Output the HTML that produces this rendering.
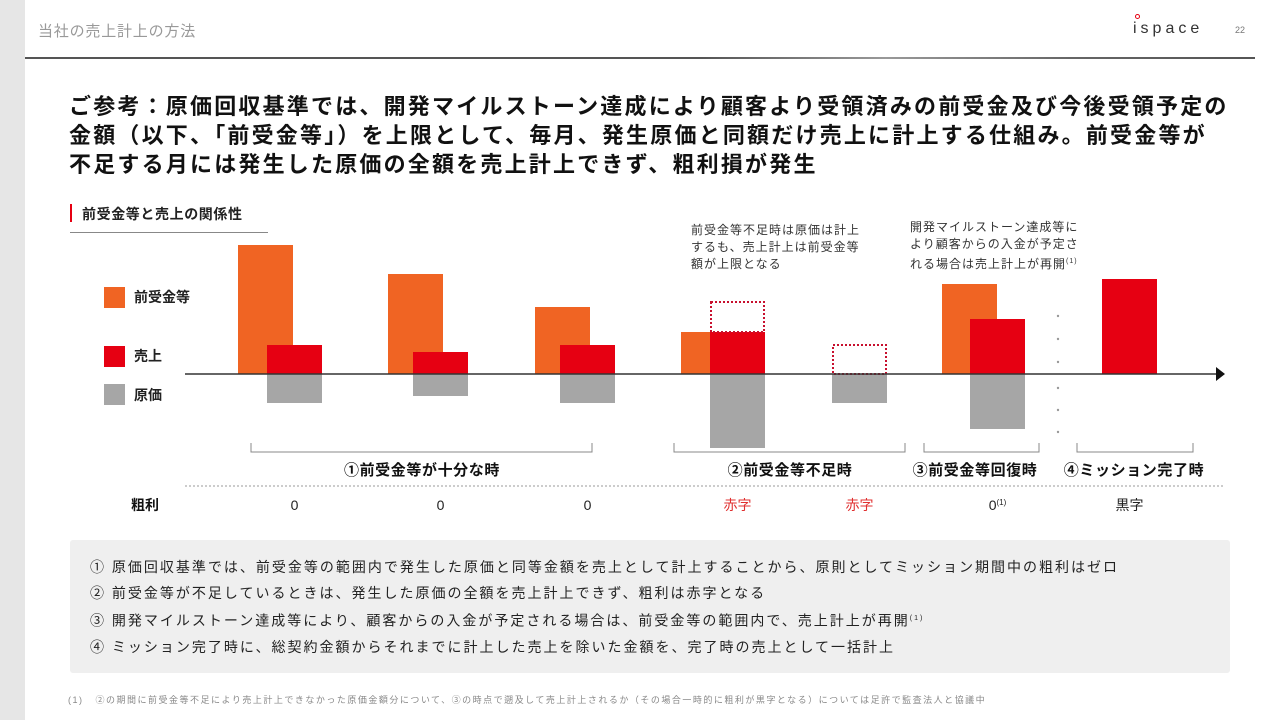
<!DOCTYPE html>
<html><head><meta charset="utf-8">
<style>
*{margin:0;padding:0;box-sizing:border-box}
body{width:1280px;height:720px;position:relative;background:#fff;font-family:"Liberation Sans","Noto Sans CJK JP",sans-serif;overflow:hidden;color:#222}
.abs{position:absolute;white-space:nowrap}
</style></head><body>
<div class="abs" style="left:0;top:0;width:25px;height:720px;background:#e6e6e6"></div>
<div class="abs" style="left:38px;top:20px;font-size:15px;color:#999;letter-spacing:0.8px">当社の売上計上の方法</div>
<div class="abs" style="left:1133px;top:20px;font-size:16px;letter-spacing:4px;color:#333">ispace<span style="position:absolute;left:2px;top:-6px;width:5px;height:5px;border-radius:50%;border:1.5px solid #e60012"></span></div>
<div class="abs" style="left:1235px;top:25px;font-size:9px;color:#777">22</div>
<div class="abs" style="left:25px;top:57px;width:1230px;height:2px;background:linear-gradient(90deg,#555 0%,#555 55%,#999 70%,#666 85%,#555 100%)"></div>
<div class="abs" style="left:69px;top:92px;font-size:22px;font-weight:bold;line-height:29px;color:#111;letter-spacing:2.2px">ご参考：原価回収基準では、開発マイルストーン達成により顧客より受領済みの前受金及び今後受領予定の<br>金額（以下、「前受金等」）を上限として、毎月、発生原価と同額だけ売上に計上する仕組み。前受金等が<br>不足する月には発生した原価の全額を売上計上できず、粗利損が発生</div>
<div class="abs" style="left:70px;top:204px;width:2px;height:18px;background:#e60012"></div>
<div class="abs" style="left:82px;top:204px;font-size:14px;font-weight:bold;letter-spacing:0.6px">前受金等と売上の関係性</div>
<div class="abs" style="left:70px;top:232px;width:198px;height:1px;background:#888"></div>
<div class="abs" style="left:691px;top:222px;font-size:12px;line-height:17px;color:#333;letter-spacing:1px">前受金等不足時は原価は計上<br>するも、売上計上は前受金等<br>額が上限となる</div>
<div class="abs" style="left:910px;top:219px;font-size:12px;line-height:17px;color:#333;letter-spacing:1px">開発マイルストーン達成等に<br>より顧客からの入金が予定さ<br>れる場合は売上計上が再開<sup style="font-size:7px">(1)</sup></div>

<div class="abs" style="left:104px;top:287px;width:21px;height:21px;background:#f06423"></div>
<div class="abs" style="left:134px;top:287px;font-size:14px;font-weight:bold">前受金等</div>
<div class="abs" style="left:104px;top:346px;width:21px;height:21px;background:#e60012"></div>
<div class="abs" style="left:134px;top:346px;font-size:14px;font-weight:bold">売上</div>
<div class="abs" style="left:104px;top:384px;width:21px;height:21px;background:#a6a6a6"></div>
<div class="abs" style="left:134px;top:385px;font-size:14px;font-weight:bold">原価</div>

<svg id="chart" class="abs" style="left:0;top:0" width="1280" height="720"></svg>

<div class="abs" style="left:70px;top:540px;width:1160px;height:133px;background:#efefef;border-radius:3px"></div>
<div class="abs" style="left:90px;top:554px;font-size:14px;line-height:26px;color:#222;letter-spacing:2px">
①&nbsp;原価回収基準では、前受金等の範囲内で発生した原価と同等金額を売上として計上することから、原則としてミッション期間中の粗利はゼロ<br>
②&nbsp;前受金等が不足しているときは、発生した原価の全額を売上計上できず、粗利は赤字となる<br>
③&nbsp;開発マイルストーン達成等により、顧客からの入金が予定される場合は、前受金等の範囲内で、売上計上が再開<sup style="font-size:7px">(1)</sup><br>
④&nbsp;ミッション完了時に、総契約金額からそれまでに計上した売上を除いた金額を、完了時の売上として一括計上</div>
<div class="abs" style="left:68px;top:693px;font-size:9px;color:#888;letter-spacing:1.5px">(1)&nbsp;&nbsp;&nbsp;②の期間に前受金等不足により売上計上できなかった原価金額分について、③の時点で遡及して売上計上されるか（その場合一時的に粗利が黒字となる）については足許で監査法人と協議中</div>

<script>
const periods = ["m1","m2","m3","m4","m5","m6","m7"];
const advance = [129,100,67,42,0,90,0];
const sales = [29,22,29,42,0,55,95];
const cost = [29,22,29,74,29,55,0];
const shortfall = [0,0,0,30,29,0,0];
const profitLabels = ["0","0","0","赤字","赤字","0","黒字"];
const phaseLabels = ["①前受金等が十分な時","②前受金等不足時","③前受金等回復時","④ミッション完了時"];

const NS="http://www.w3.org/2000/svg";
const svg=document.getElementById('chart');
const axisY=374, k=1, barW=55;
const xs=[267,413,560,710,832,970,1102];
const advX=[238,388,535,681,0,942,0];
function yv(v){return axisY - v*k;}
function mk(tag,attrs){const e=document.createElementNS(NS,tag);for(const a in attrs)e.setAttribute(a,attrs[a]);svg.appendChild(e);return e;}
periods.forEach((p,i)=>{
  if(advance[i]>0){
    const w = i===3 ? xs[i]-advX[i] : barW;
    const r=mk('rect',{x:advX[i],y:yv(advance[i]),width:w,height:advance[i]*k,fill:'#f06423'});
    
    
  }
  if(sales[i]>0){
    const r=mk('rect',{x:xs[i],y:yv(sales[i]),width:barW,height:sales[i]*k,fill:'#e60012'});
    
    
  }
  if(cost[i]>0){
    const r=mk('rect',{x:xs[i],y:axisY,width:barW,height:cost[i]*k,fill:'#a6a6a6'});
    
    
  }
  if(shortfall[i]>0){
    const r=mk('rect',{x:xs[i]+1,y:yv(sales[i]+shortfall[i]),width:barW-2,height:shortfall[i]*k,fill:'none',stroke:'#c8102e','stroke-width':2,'stroke-dasharray':'2,2'});
    
    
  }
  const t=mk('text',{x:xs[i]+barW/2,y:510,'text-anchor':'middle','font-size':14,fill:(profitLabels[i]==='赤字'?'#e03030':'#222')});
  t.textContent=profitLabels[i];
  if(i===5){const s=document.createElementNS(NS,'tspan');s.setAttribute('dy','-5');s.setAttribute('font-size','8');s.textContent='(1)';t.appendChild(s);}
  
  
});
const ax=mk('line',{x1:185,y1:axisY,x2:1218,y2:axisY,stroke:'#333','stroke-width':1.5});


const ar=mk('polygon',{points:'1216,367 1225,374 1216,381',fill:'#111'});


[316,339,362,388,410,432].forEach(y=>{const c=mk('circle',{cx:1058,cy:y,r:1.2,fill:'#999'});});
const brackets=[[251,592],[674,905],[924,1039],[1077,1193]];
const phaseX=[422,790,975,1134];
brackets.forEach((b,i)=>{
  const p=mk('polyline',{points:`${b[0]},443 ${b[0]},452 ${b[1]},452 ${b[1]},443`,fill:'none',stroke:'#888','stroke-width':1});
  
  
  const t=mk('text',{x:phaseX[i],y:475,'text-anchor':'middle','font-size':15,'font-weight':'bold',fill:'#111','letter-spacing':0.6});
  t.textContent=phaseLabels[i];
  
  
});
const dl=mk('line',{x1:185,y1:486,x2:1225,y2:486,stroke:'#999','stroke-width':1,'stroke-dasharray':'2,2'});


const gl=mk('text',{x:131,y:510,'font-size':14,'font-weight':'bold',fill:'#111'});
gl.textContent='粗利';


</script>
</body></html>
